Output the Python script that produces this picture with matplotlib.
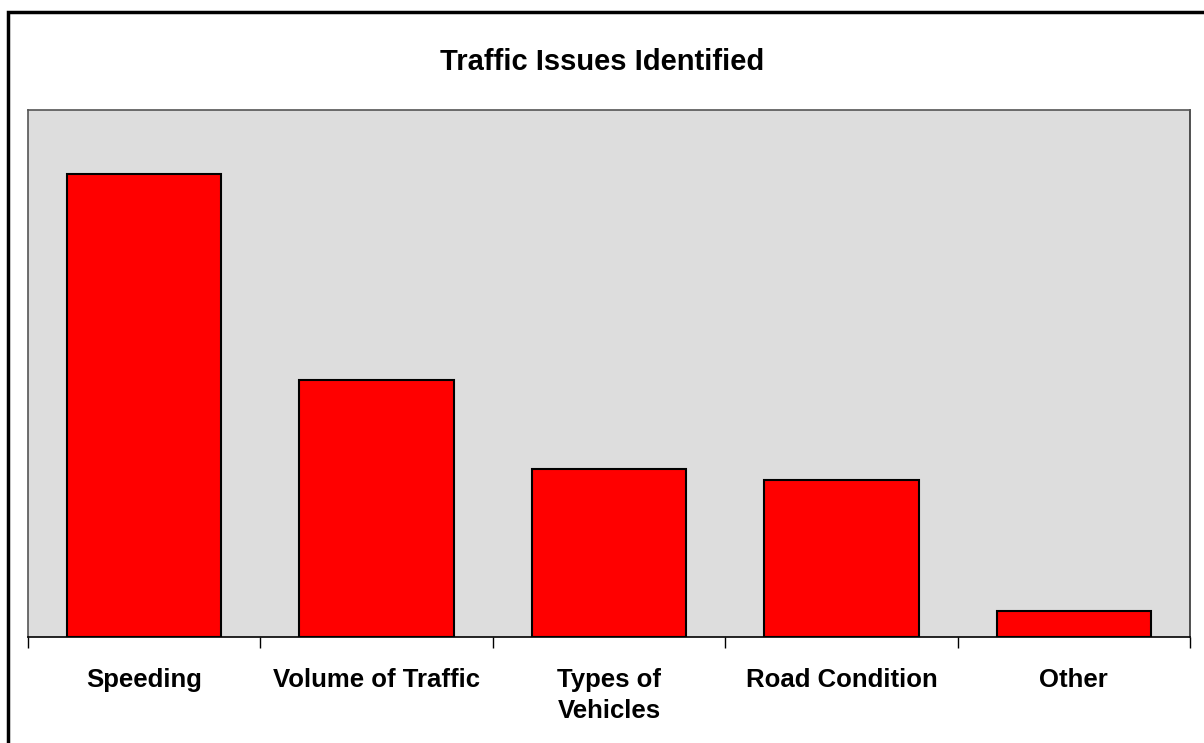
import numpy as np
import matplotlib.pyplot as plt
from matplotlib.patches import Rectangle

categories = ["Speeding", "Volume of Traffic", "Types of\nVehicles", "Road Condition", "Other"]
counts = [52.7, 29.3, 19.1, 17.9, 3.0]
ymax = 60

plt.rcParams['font.family'] = ['Liberation Sans', 'DejaVu Sans']

fig = plt.figure(figsize=(12.04, 7.43), dpi=100)
W, H = 1204, 743

# outer chart border (only left and top visible in the picture)
fig.patches.append(Rectangle((7.5 / W, -0.1), 1.2, 1 - 12 / H + 0.1, transform=fig.transFigure,
                             fill=False, edgecolor='black', linewidth=2.5))

ax = fig.add_axes([28 / W, 1 - 637 / H, (1190 - 28) / W, (637 - 110) / H])
ax.set_facecolor('#dddddd')

x = np.arange(len(categories))
ax.bar(x, counts, width=0.665, color='#ff0000', edgecolor='black', linewidth=1.5, zorder=3)

ax.set_xlim(-0.5, len(categories) - 0.5)
ax.set_ylim(0, ymax)
ax.set_yticks([])

ax.set_xticks(np.arange(-0.5, len(categories), 1.0))
ax.set_xticklabels([])
ax.tick_params(axis='x', direction='out', length=8, width=1, color='black')
for i, lab in enumerate(categories):
    ax.text(i, -0.058, lab, transform=ax.get_xaxis_transform(), ha='center', va='top',
            fontsize=18.5, fontweight='bold', linespacing=1.38)

for s in ['top', 'left']:
    ax.spines[s].set_color('#555555')
    ax.spines[s].set_linewidth(1.2)
ax.spines['right'].set_color('#333333')
ax.spines['right'].set_linewidth(1.2)
ax.spines['bottom'].set_color('black')
ax.spines['bottom'].set_linewidth(1.2)

fig.text(0.5, 1 - 62 / H, "Traffic Issues Identified", ha='center', va='center',
         fontsize=21, fontweight='bold')

fig.savefig("out.png", dpi=100)
